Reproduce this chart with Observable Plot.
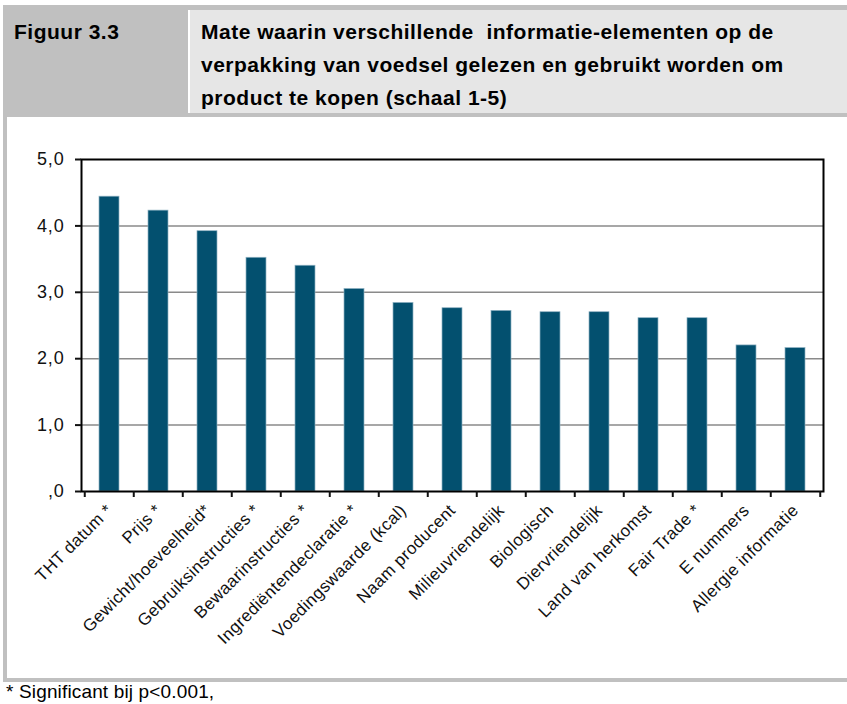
<!DOCTYPE html>
<html><head><meta charset="utf-8">
<script src="https://cdn.jsdelivr.net/npm/d3@7"></script>
<script src="https://cdn.jsdelivr.net/npm/@observablehq/plot@0.6"></script>
<style>
html,body{margin:0;padding:0;background:#fff;}
#page{position:relative;width:847px;height:704px;overflow:hidden;background:#fff;font-family:"Liberation Sans",Arial,sans-serif;color:#000;}
.box{position:absolute;}
#hdr{left:3px;top:5px;width:844px;height:112px;background:#c0c0c0;}
#hdrTitle{left:190px;top:10px;width:657px;height:103px;background:#e6e6e6;}
#divider{left:188px;top:10px;width:2px;height:103px;background:#fff;}
#leftBorder{left:3px;top:117px;width:4px;height:565px;background:#c0c0c0;}
#bottomBorder{left:3px;top:678px;width:844px;height:4px;background:#c0c0c0;}
.htext{position:absolute;font-weight:bold;font-size:21px;line-height:33px;letter-spacing:0.5px;white-space:pre;}
#figLabel{left:14px;top:14.5px;}
#title{left:201px;top:14.5px;}
#note{position:absolute;left:6px;top:680px;font-size:19px;line-height:24px;letter-spacing:0.15px;white-space:pre;}
#chart{position:absolute;left:7px;top:117px;}
#chart g[aria-label="y-axis tick label"] text{letter-spacing:0.8px;}
#chart g[aria-label="x-axis tick label"] text{letter-spacing:0.4px;}
</style>
</head><body>
<div id="page">
  <div class="box" id="hdr"></div>
  <div class="box" id="hdrTitle"></div>
  <div class="box" id="divider"></div>
  <div class="htext" id="figLabel">Figuur 3.3</div>
  <div class="htext" id="title"></div>
  <div id="chart"></div>
  <div class="box" id="leftBorder"></div>
  <div class="box" id="bottomBorder"></div>
  <div id="note"></div>
</div>
<script>
const titleLines = [
  "Mate waarin verschillende  informatie-elementen op de",
  "verpakking van voedsel gelezen en gebruikt worden om",
  "product te kopen (schaal 1-5)"
];
const noteText = "* Significant bij p<0.001,";
const categories = [
  "THT datum *", "Prijs *", "Gewicht/hoeveelheid*", "Gebruiksinstructies *",
  "Bewaarinstructies *", "Ingrediëntendeclaratie *", "Voedingswaarde (kcal)",
  "Naam producent", "Milieuvriendelijk", "Biologisch", "Diervriendelijk",
  "Land van herkomst", "Fair Trade *", "E nummers", "Allergie informatie"
];
const values = [4.44, 4.23, 3.92, 3.52, 3.40, 3.05, 2.84, 2.76, 2.72, 2.70, 2.70, 2.61, 2.61, 2.20, 2.16];
const yTicks = [0, 1, 2, 3, 4, 5];
const yTickLabels = [",0", "1,0", "2,0", "3,0", "4,0", "5,0"];
const gridValues = [1, 2, 3, 4];

document.getElementById("title").textContent = titleLines.join("\n");
document.getElementById("note").textContent = noteText;

const data = categories.map((c, i) => ({category: c, value: values[i]}));
const W = 840, H = 561, mL = 74, mR = 24, mT = 42, mB = 187;
const step = (W - mL - mR) / categories.length;

const chart = Plot.plot({
  width: W, height: H,
  marginLeft: mL, marginRight: mR, marginTop: mT, marginBottom: mB,
  style: {fontFamily: "'Liberation Sans', Arial, sans-serif", background: "transparent", overflow: "visible", color: "#111"},
  x: {domain: categories, paddingInner: 0.6, paddingOuter: 0.3, axis: null},
  y: {domain: [0, 5], axis: null},
  marks: [
    Plot.ruleY(gridValues, {stroke: "#8a8a8a", strokeWidth: 1.5}),
    Plot.barY(data, {x: "category", y: "value", fill: "#03506f", stroke: "#8fb1c2", strokeWidth: 0.7}),
    Plot.frame({stroke: "#000", strokeWidth: 2}),
    Plot.axisY({ticks: yTicks, tickSize: 6, tickPadding: 11, strokeWidth: 2, label: null,
      tickFormat: d => yTickLabels[yTicks.indexOf(d)], fontSize: 18}),
    Plot.axisX({tickSize: 0, tickRotate: -45, tickPadding: 16, fontSize: 17, label: null}),
    Plot.axisX({tickSize: 6, strokeWidth: 2, tickFormat: () => "", dx: -step / 2, label: null}),
    Plot.axisX({ticks: [categories[categories.length - 1]], tickSize: 6, strokeWidth: 2, tickFormat: () => "", dx: step / 2, label: null})
  ]
});
document.getElementById("chart").appendChild(chart);
</script>
</body></html>
